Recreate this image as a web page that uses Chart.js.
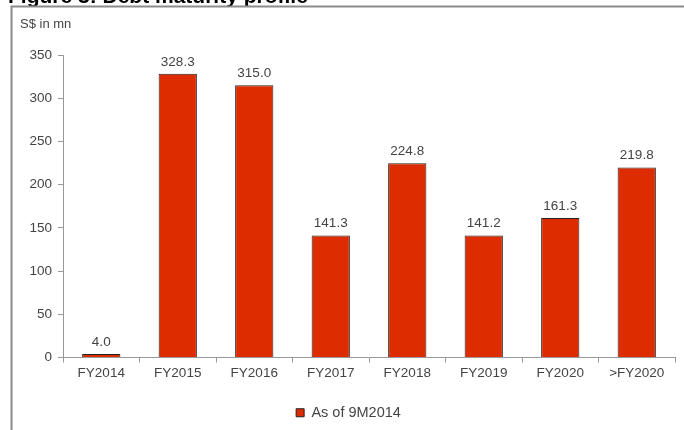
<!DOCTYPE html>
<html>
<head>
<meta charset="utf-8">
<script src="https://cdn.jsdelivr.net/npm/chart.js@4.4.1/dist/chart.umd.min.js"></script>
<style>
    html, body { margin: 0; padding: 0; background: #fff; }
    #wrap { position: relative; width: 684px; height: 430px; overflow: hidden; }
</style>
</head>
<body>
<div id="wrap"><canvas id="myChart" width="684" height="430"></canvas></div>
<script>
const categories = ["FY2014", "FY2015", "FY2016", "FY2017", "FY2018", "FY2019", "FY2020", ">FY2020"];
const debtValues = [4.0, 328.3, 315.0, 141.3, 224.8, 141.2, 161.3, 219.8];
const seriesName = "As of 9M2014";
const yTicks = [0, 50, 100, 150, 200, 250, 300, 350];

const FONT = "'Liberation Sans', Arial, sans-serif";
const TEXT_COLOR = "#444";

// frame, title and unit label
const framePlugin = {
    id: "frame",
    beforeDraw(chart) {
        const c = chart.ctx;
        c.save();
        c.fillStyle = "#000";
        c.font = "bold 21px " + FONT;
        c.textBaseline = "alphabetic";
        c.fillText("Figure 3: Debt maturity profile", 8, 3);
        c.strokeStyle = "#8c8c8c";
        c.lineWidth = 2;
        c.beginPath();
        c.moveTo(11.5, 430);
        c.lineTo(11.5, 6.5);
        c.lineTo(684, 6.5);
        c.stroke();
        c.fillStyle = TEXT_COLOR;
        c.font = "13px " + FONT;
        c.textBaseline = "middle";
        c.fillText("S$ in mn", 20, 24);
        c.restore();
    }
};

// value labels over bars
const valueLabels = {
    id: "valueLabels",
    afterDatasetsDraw(chart) {
        const c = chart.ctx;
        const meta = chart.getDatasetMeta(0);
        c.save();
        c.fillStyle = TEXT_COLOR;
        c.font = "13.5px " + FONT;
        c.textAlign = "center";
        c.textBaseline = "bottom";
        meta.data.forEach(function (bar, i) {
            c.fillText(debtValues[i].toFixed(1), bar.x, bar.y - 5);
        });
        c.restore();
    }
};

const ctx = document.getElementById("myChart").getContext("2d");
new Chart(ctx, {
    type: "bar",
    data: {
        labels: categories,
        datasets: [{
            label: seriesName,
            data: debtValues,
            backgroundColor: "#dc2c00",
            borderColor: "#222",
            borderWidth: 1,
            barPercentage: 0.5,
            categoryPercentage: 1.0
        }]
    },
    options: {
        responsive: false,
        animation: false,
        layout: { padding: { left: 22, right: 9, top: 55, bottom: 0 } },
        plugins: {
            tooltip: { enabled: false },
            legend: {
                position: "bottom",
                labels: {
                    boxWidth: 8,
                    boxHeight: 8,
                    padding: 4,
                    color: TEXT_COLOR,
                    font: { family: FONT, size: 14.5 }
                }
            }
        },
        scales: {
            x: {
                grid: { drawOnChartArea: false, color: "#999", tickLength: 5, offset: true },
                border: { color: "#999" },
                ticks: { color: TEXT_COLOR, font: { family: FONT, size: 13.5 }, padding: 3 },
                afterFit(scale) { scale.height = 44; }
            },
            y: {
                min: 0,
                max: 350,
                afterBuildTicks(scale) { scale.ticks = yTicks.map(v => ({ value: v })); },
                grid: { drawOnChartArea: false, color: "#999", tickLength: 5 },
                border: { color: "#999" },
                ticks: { color: TEXT_COLOR, font: { family: FONT, size: 13.5 }, padding: 6 },
                afterFit(scale) { scale.width = 41; }
            }
        }
    },
    plugins: [framePlugin, valueLabels]
});
</script>
</body>
</html>
